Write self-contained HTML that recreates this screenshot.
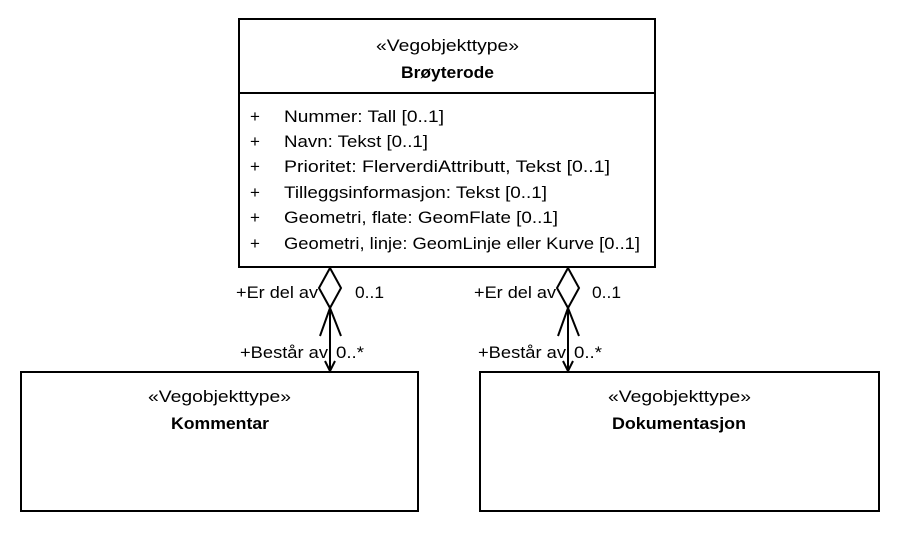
<!DOCTYPE html>
<html><head><meta charset="utf-8"><style>
body{margin:0;background:#fff;}
svg text{font-family:"Liberation Sans",sans-serif;font-size:17px;fill:#000;}
</style></head><body>
<svg width="900" height="532" xmlns="http://www.w3.org/2000/svg">
<g fill="#fff" stroke="#000" stroke-width="2">
<rect x="239" y="19" width="416" height="248"/>
<line x1="239" y1="93" x2="655" y2="93"/>
<rect x="21" y="372" width="397" height="139"/>
<rect x="480" y="372" width="399" height="139"/>
</g>
<text x="376" y="51" textLength="143" lengthAdjust="spacingAndGlyphs">«Vegobjekttype»</text>
<text x="401" y="78" font-weight="bold" textLength="93" lengthAdjust="spacingAndGlyphs">Brøyterode</text>
<g>
<text x="250" y="122" fill="#5a2d00">+</text><text x="284" y="122" textLength="160" lengthAdjust="spacingAndGlyphs">Nummer: Tall [0..1]</text>
<text x="250" y="147" fill="#5a2d00">+</text><text x="284" y="147" textLength="144" lengthAdjust="spacingAndGlyphs">Navn: Tekst [0..1]</text>
<text x="250" y="172" fill="#5a2d00">+</text><text x="284" y="172" textLength="326" lengthAdjust="spacingAndGlyphs">Prioritet: FlerverdiAttributt, Tekst [0..1]</text>
<text x="250" y="198" fill="#5a2d00">+</text><text x="284" y="198" textLength="263" lengthAdjust="spacingAndGlyphs">Tilleggsinformasjon: Tekst [0..1]</text>
<text x="250" y="223" fill="#5a2d00">+</text><text x="284" y="223" textLength="274" lengthAdjust="spacingAndGlyphs">Geometri, flate: GeomFlate [0..1]</text>
<text x="250" y="249" fill="#5a2d00">+</text><text x="284" y="249" textLength="356" lengthAdjust="spacingAndGlyphs">Geometri, linje: GeomLinje eller Kurve [0..1]</text>
</g>
<text x="148" y="402" textLength="143" lengthAdjust="spacingAndGlyphs">«Vegobjekttype»</text>
<text x="171" y="429" font-weight="bold" textLength="98" lengthAdjust="spacingAndGlyphs">Kommentar</text>
<text x="608" y="402" textLength="143" lengthAdjust="spacingAndGlyphs">«Vegobjekttype»</text>
<text x="612" y="429" font-weight="bold" textLength="134" lengthAdjust="spacingAndGlyphs">Dokumentasjon</text>
<g fill="none" stroke="#000" stroke-width="2">
<path d="M330 268 L341 288 L330 308 L319 288 Z" fill="#fff"/>
<line x1="330" y1="308" x2="330" y2="371"/>
<path d="M320 336 L330 308 L341 336"/>
<path d="M325 361 L330 371 L335 361"/>
<path d="M568 268 L579 288 L568 308 L557 288 Z" fill="#fff"/>
<line x1="568" y1="308" x2="568" y2="371"/>
<path d="M558 336 L568 308 L579 336"/>
<path d="M563 361 L568 371 L573 361"/>
</g>
<text x="236" y="298" textLength="82" lengthAdjust="spacingAndGlyphs">+Er del av</text>
<text x="355" y="298" textLength="29" lengthAdjust="spacingAndGlyphs">0..1</text>
<text x="240" y="358" textLength="88" lengthAdjust="spacingAndGlyphs">+Består av</text>
<text x="336" y="358" textLength="28" lengthAdjust="spacingAndGlyphs">0..*</text>
<text x="474" y="298" textLength="82" lengthAdjust="spacingAndGlyphs">+Er del av</text>
<text x="592" y="298" textLength="29" lengthAdjust="spacingAndGlyphs">0..1</text>
<text x="478" y="358" textLength="88" lengthAdjust="spacingAndGlyphs">+Består av</text>
<text x="574" y="358" textLength="28" lengthAdjust="spacingAndGlyphs">0..*</text>
</svg>
</body></html>
